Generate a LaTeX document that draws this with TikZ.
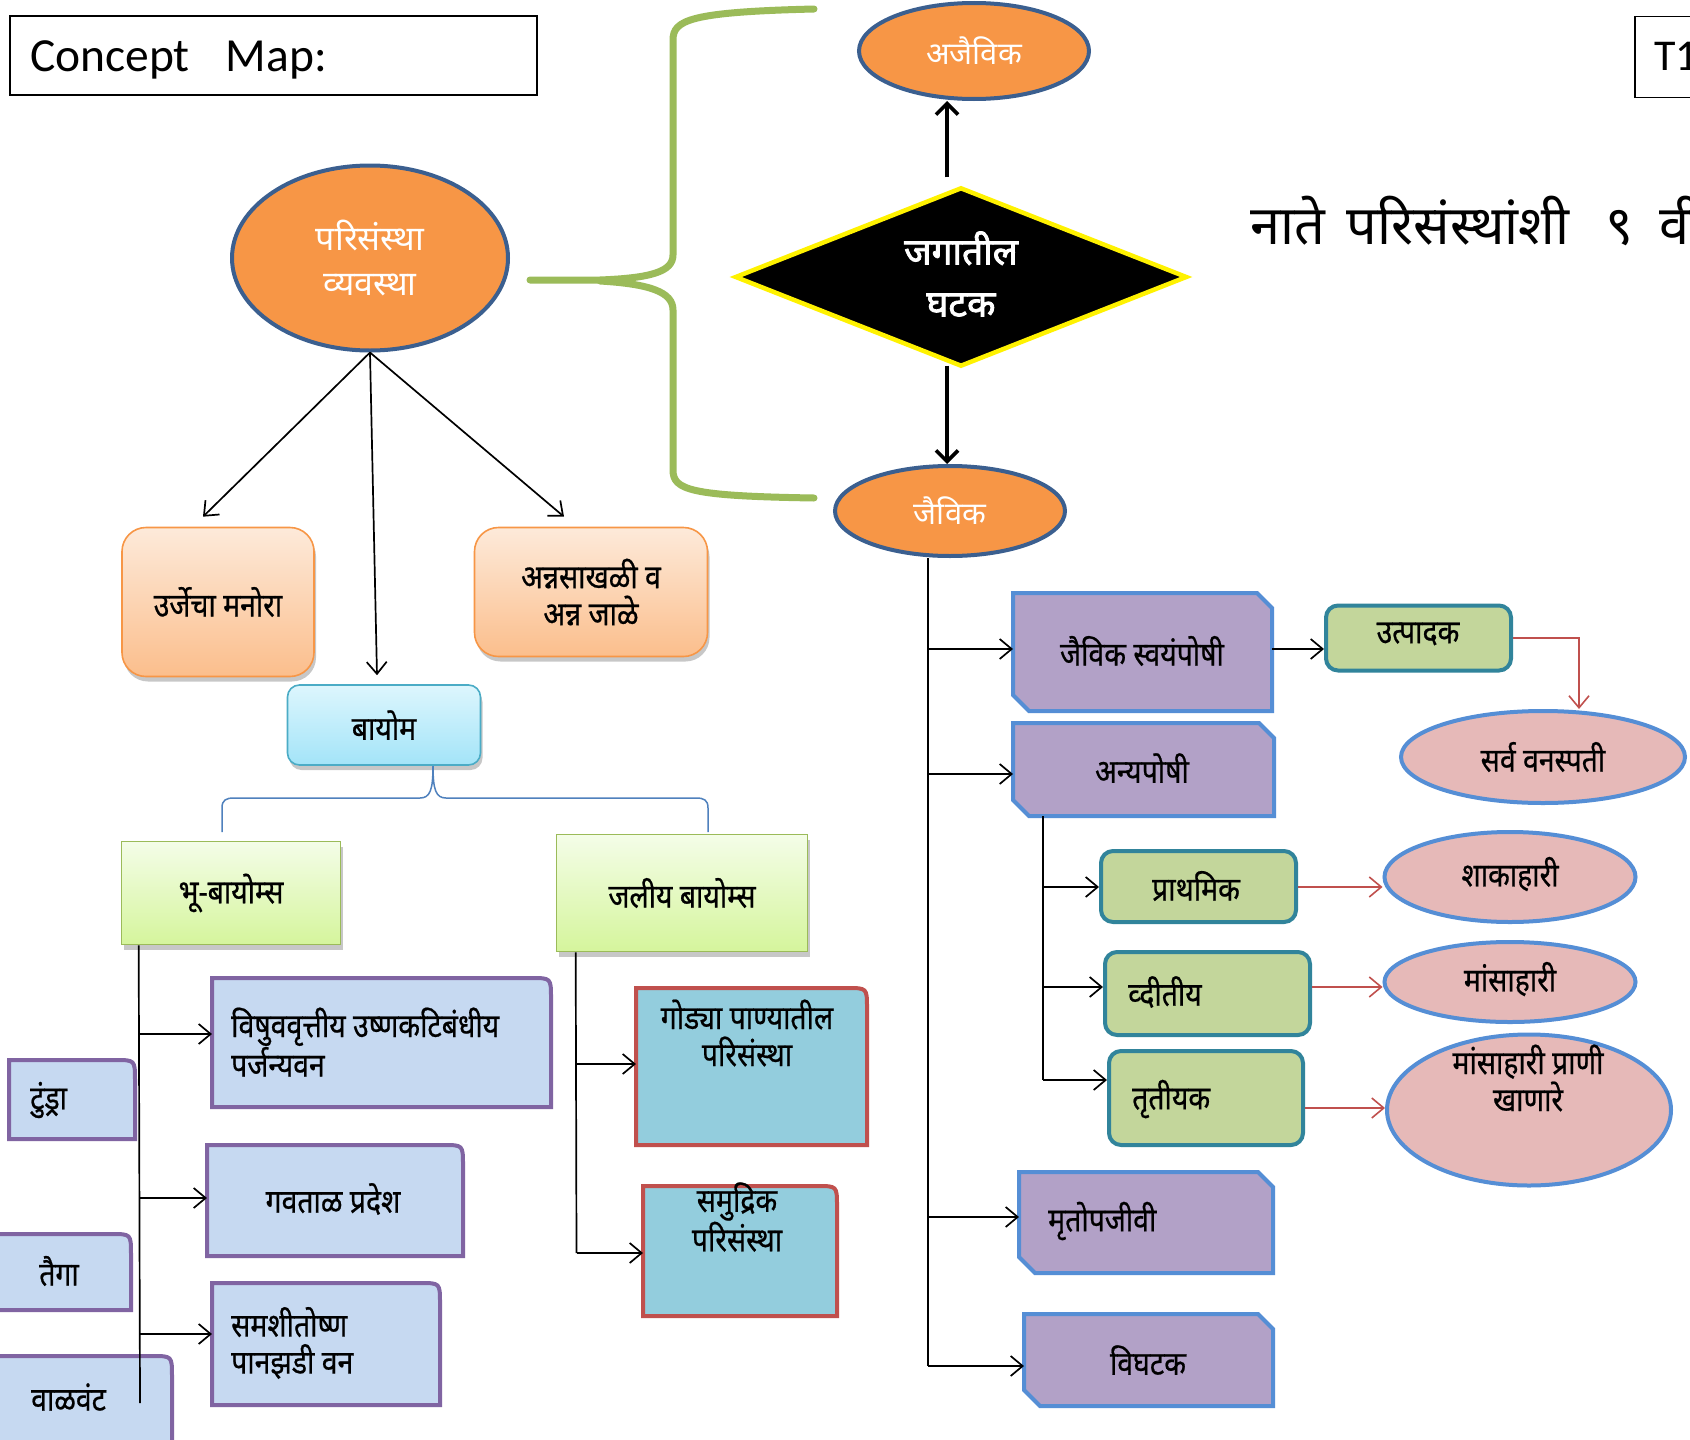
\documentclass[tikz,border=0pt]{standalone}
\usepackage{fontspec}
\setmainfont{Carlito}
\newfontfamily\dev[Script=Devanagari]{Noto Sans}
\newfontfamily\devbox[Script=Devanagari, FakeStretch=0.86, FakeBold=0.6]{Noto Sans}
\newfontfamily\devbold[Script=Devanagari, FakeBold=2.2]{Noto Sans}
\usetikzlibrary{shapes.geometric,arrows.meta,shadows,calc}
\definecolor{orng}{HTML}{F79646}
\definecolor{navy}{HTML}{3B5F8F}
\definecolor{brgreen}{HTML}{9BBB59}
\definecolor{pktop}{HTML}{FDEADA}
\definecolor{pkbot}{HTML}{FBBE8C}
\definecolor{cytop}{HTML}{DDF6FD}
\definecolor{cybot}{HTML}{A3E4F8}
\definecolor{cybord}{HTML}{4BACC6}
\definecolor{grtop}{HTML}{F4FDE8}
\definecolor{grbot}{HTML}{D5F59C}
\definecolor{bioFill}{HTML}{C6D9F1}
\definecolor{bioBord}{HTML}{8064A2}
\definecolor{aqFill}{HTML}{93CDDD}
\definecolor{aqBord}{HTML}{C0504D}
\definecolor{snFill}{HTML}{B2A1C7}
\definecolor{snBord}{HTML}{558ED5}
\definecolor{cnFill}{HTML}{C3D69B}
\definecolor{cnBord}{HTML}{31849B}
\definecolor{elFill}{HTML}{E6B9B8}
\definecolor{redln}{HTML}{C0504D}
\definecolor{blbr}{HTML}{4F81BD}
% box with rounded top-right corner: name, x1, y1, x2, y2, style
\newcommand{\rcshape}[6]{%
  \path[#6] (#2,#5) -- (#2,#3) -- ({#4-20},#3) .. controls (#4,#3) .. (#4,{#3+20}) -- (#4,#5) -- cycle;
  \node[inner sep=0pt,outer sep=0pt,minimum width={((#4)-(#2))*1pt},minimum height={((#5)-(#3))*1pt}] (#1) at ({((#2)+(#4))/2},{((#3)+(#5))/2}) {};
}
% box with snipped top-right and bottom-left corners
\newcommand{\snshape}[6]{%
  \path[#6] (#2,#3) -- ({#4-15},#3) -- (#4,{#3+15}) -- (#4,#5) -- ({#2+16},#5) -- (#2,{#5-16}) -- cycle;
  \node[inner sep=0pt,outer sep=0pt,minimum width={((#4)-(#2))*1pt},minimum height={((#5)-(#3))*1pt}] (#1) at ({((#2)+(#4))/2},{((#3)+(#5))/2}) {};
}
\begin{document}
\begin{tikzpicture}[x=1pt,y=-1pt,
  line/.style={draw=black, line width=1.7pt},
  arr/.style={line, -{Straight Barb[length=12pt,width=20pt]}},
  tharr/.style={draw=black, line width=3.6pt, -{Straight Barb[length=11pt,width=22pt]}},
  rarr/.style={draw=redln, line width=1.6pt, -{Straight Barb[length=12pt,width=20pt]}},
  btxt/.style={font=\devbox\fontsize{33}{37}\selectfont, align=center, inner sep=0pt},
  oval/.style={ellipse, draw=navy, line width=4pt, fill=orng, inner sep=0pt, text=white, align=center, font=\dev\fontsize{31}{45}\selectfont},
  pink/.style={ellipse, draw=snBord, line width=4pt, fill=elFill, inner sep=0pt},
  shad/.style={drop shadow={shadow xshift=2pt,shadow yshift=-5pt,fill=black,opacity=0.22}},
  obox/.style={draw=orng, line width=1.6pt, rounded corners=24pt, top color=pktop, bottom color=pkbot, shad, btxt},
  cbox/.style={draw=cybord, line width=1.6pt, rounded corners=12pt, top color=cytop, bottom color=cybot, shad, btxt},
  gbox/.style={draw=brgreen, line width=1.6pt, top color=grtop, bottom color=grbot, shad, btxt},
  cnbox/.style={draw=cnBord, line width=4pt, fill=cnFill, rounded corners=12pt, inner sep=0pt},
  bioS/.style={draw=bioBord, line width=4pt, fill=bioFill},
  aqS/.style={draw=aqBord, line width=4pt, fill=aqFill},
  snS/.style={draw=snBord, line width=4pt, fill=snFill},
  greenbr/.style={draw=brgreen, line width=7pt, line cap=round, line join=round},
  bluebr/.style={draw=blbr, line width=1.5pt}
]
\useasboundingbox (0,0) rectangle (1690,1440);
\clip (0,0) rectangle (1690,1440);
\fill[white] (0,0) rectangle (1690,1440);

% ---------- header ----------
\node[draw=black, line width=1.5pt, inner sep=0pt, minimum width=527pt, minimum height=79pt] (titlebox) at (273.5,55.5) {};
\node[anchor=base west, inner sep=0pt, font=\fontsize{47.5}{50}\selectfont] (titletxt) at (30,71) {Concept\hspace{36pt}Map:};
\node[draw=black, line width=1.5pt, inner sep=0pt, minimum width=120pt, minimum height=81pt] (tbox) at (1695,57) {};
\node[anchor=base west, inner sep=0pt, font=\fontsize{44}{48}\selectfont] (ttxt) at (1654,70) {T1};
\node[anchor=base west, inner sep=0pt, font=\dev\fontsize{54}{58}\selectfont] (heading) at (1250,244) {नाते\hspace{22pt}परिसंस्थांशी\hspace{36pt}९\hspace{26pt}वी};

% ---------- green brace ----------
\draw[greenbr] (530,280) -- (600,280) .. controls (650,278) and (673,272) .. (673,255) -- (673,40) .. controls (673,20) and (690,12) .. (814,9);
\draw[greenbr] (600,281) .. controls (650,284) and (673,292) .. (673,310) -- (673,470) .. controls (673,490) and (690,496) .. (814,498);

% ---------- top nodes ----------
\node[oval, minimum width=276pt, minimum height=185pt, font=\dev\fontsize{34}{45}\selectfont] (pari) at (370,258) {परिसंस्था\\व्यवस्था};
\node[oval, minimum width=230pt, minimum height=96pt] (ajaivik) at (974,51) {अजैविक};
\node[oval, minimum width=230pt, minimum height=90pt] (jaivik) at (950,511) {जैविक};
\node[inner sep=0pt, minimum width=450pt, minimum height=177pt] (ghatak) at (961,277) {};
\path[fill=black, draw=yellow, line width=4.5pt, line join=miter] (ghatak.west) -- (ghatak.north) -- (ghatak.east) -- (ghatak.south) -- cycle;
\node[inner sep=0pt, text=white, align=center, font=\devbold\fontsize{37}{52}\selectfont] (ghatxt) at (961,274) {जगातील\\घटक};

% ---------- left: boxes ----------
\node[obox, minimum width=192pt, minimum height=149pt] (urja) at (218,602) {उर्जेचा मनोरा};
\node[obox, minimum width=233pt, minimum height=129pt] (anna) at (591,592) {अन्नसाखळी व\\अन्न जाळे};
\node[cbox, minimum width=193pt, minimum height=80pt] (biome) at (384,725) {बायोम};
\node[gbox, minimum width=219pt, minimum height=103pt] (bhu) at (231,893) {भू-बायोम्स};
\node[gbox, minimum width=251pt, minimum height=117pt] (jal) at (682,893) {जलीय बायोम्स};

% blue brace under biome
\draw[bluebr] (222,832) -- (222,808) .. controls (222,800) and (226,798) .. (234,798) -- (420,798) .. controls (430,798) and (433,790) .. (433,766);
\draw[bluebr] (433,766) .. controls (433,790) and (436,798) .. (446,798) -- (696,798) .. controls (704,798) and (708,800) .. (708,808) -- (708,832);

\rcshape{vishuv}{212}{978}{551}{1107}{bioS}
\rcshape{tundra}{9}{1060}{135}{1139}{bioS}
\rcshape{gavatal}{207}{1145}{463}{1256}{bioS}
\rcshape{taiga}{-6}{1234}{131}{1310}{bioS}
\rcshape{samshi}{212}{1283}{440}{1405}{bioS}
\rcshape{valvant}{-6}{1356}{172}{1460}{bioS}
\rcshape{gode}{636}{988}{867}{1145}{aqS}
\rcshape{samudra}{643}{1186}{837}{1316}{aqS}

% ---------- right: boxes ----------
\snshape{svayam}{1013}{593}{1272}{711}{snS}
\snshape{anya}{1013}{723}{1274}{816}{snS}
\snshape{mrut}{1019}{1172}{1273}{1273}{snS}
\snshape{vigh}{1024}{1314}{1273}{1406}{snS}
\node[cnbox, minimum width=185pt, minimum height=65pt] (utpadak) at (1418.5,638) {};
\node[cnbox, minimum width=195pt, minimum height=71pt] (prath) at (1198.5,886.5) {};
\node[cnbox, minimum width=205pt, minimum height=83pt] (dvit) at (1207.5,993.5) {};
\node[cnbox, minimum width=194pt, minimum height=94pt] (trit) at (1206,1098) {};
\node[pink, minimum width=284pt, minimum height=92pt] (sarva) at (1543,757) {};
\node[pink, minimum width=251pt, minimum height=90pt] (shak) at (1510,877) {};
\node[pink, minimum width=251pt, minimum height=80pt] (mans) at (1510,982) {};
\node[pink, minimum width=284pt, minimum height=151pt] (prani) at (1529,1110) {};

% ---------- connectors ----------
\coordinate (gU) at ([xshift=-14pt,yshift=11pt]ghatak.north);
\draw[tharr] (gU) -- (gU |- ajaivik.south);
\coordinate (gD) at ([xshift=-14pt]ghatak.south);
\draw[tharr] (gD) -- (gD |- jaivik.north);

\draw[arr] (pari.south) -- ([xshift=-15pt,yshift=10pt]urja.north);
\draw[arr] (pari.south) -- ([xshift=-7pt,yshift=9pt]biome.north);
\draw[arr] (pari.south) -- ([xshift=-27pt,yshift=10pt]anna.north);

\coordinate (bT) at ([xshift=18pt]bhu.south west);
\coordinate (bB) at (140,1403);
\draw[line] (bT) -- (bB);
\coordinate (b1) at (140,1034);
\coordinate (b2) at (140,1198);
\coordinate (b3) at (140,1334);
\draw[arr] (b1) -- (b1 -| vishuv.west);
\draw[arr] (b2) -- (b2 -| gavatal.west);
\draw[arr] (b3) -- (b3 -| samshi.west);

\coordinate (wT) at ([xshift=20pt]jal.south west);
\coordinate (wB) at (576.5,1253);
\draw[line] (wT) -- (wB);
\coordinate (w1) at (576.5,1064);
\draw[arr] (w1) -- (w1 -| gode.west);
\draw[arr] (wB) -- (wB -| samudra.west);

\coordinate (jT) at ([xshift=-22pt]jaivik.south);
\coordinate (jB) at (928,1366);
\draw[line] (jT) -- (jB);
\coordinate (j1) at (928,649);
\coordinate (j2) at (928,774);
\coordinate (j3) at (928,1217);
\draw[arr] (j1) -- (j1 -| svayam.west);
\draw[arr] (j2) -- (j2 -| anya.west);
\draw[arr] (j3) -- (j3 -| mrut.west);
\draw[arr] (jB) -- (jB -| vigh.west);
\draw[arr] (j1 -| svayam.east) -- (j1 -| utpadak.west);
\draw[rarr] (utpadak.east) -| ([xshift=36pt]sarva.north);

\coordinate (aT) at (1043,816);
\coordinate (aB) at (1043,1080);
\draw[line] (aT) -- (aB);
\coordinate (a1) at (1043,887);
\coordinate (a2) at (1043,987);
\coordinate (a3) at (1043,1108);
\draw[arr] (a1) -- (a1 -| prath.west);
\draw[arr] (a2) -- (a2 -| dvit.west);
\draw[arr] (aB) -- (aB -| trit.west);
\draw[rarr] (a1 -| prath.east) -- (a1 -| shak.west);
\draw[rarr] (a2 -| dvit.east) -- (a2 -| mans.west);
\draw[rarr] (a3 -| trit.east) -- (a3 -| prani.west);

% ---------- texts ----------
\node[btxt, anchor=west, align=left] (t-vishuv) at (231,1042) {विषुववृत्तीय उष्णकटिबंधीय\\पर्जन्यवन};
\node[btxt, anchor=west] (t-tundra) at (30,1100) {टुंड्रा};
\node[btxt] (t-gavatal) at (333,1199) {गवताळ प्रदेश};
\node[btxt] (t-taiga) at (59,1271) {तैगा};
\node[btxt, anchor=west, align=left] (t-samshi) at (231,1343) {समशीतोष्ण\\पानझडी वन};
\node[btxt, anchor=west] (t-valvant) at (31,1397) {वाळवंट};
\node[btxt] (t-gode) at (747,1033) {गोड्या पाण्यातील\\परिसंस्था};
\node[btxt] (t-samudra) at (737,1217) {समुद्रिक\\परिसंस्था};

\node[btxt] (t-svayam) at (1142,651) {जैविक स्वयंपोषी};
\node[btxt] (t-anya) at (1142,768) {अन्यपोषी};
\node[btxt] (t-utpadak) at (1418,634) {उत्पादक};
\node[btxt] (t-sarva) at (1543,757) {सर्व वनस्पती};
\node[btxt] (t-prath) at (1196,886) {प्राथमिक};
\node[btxt, anchor=west] (t-dvit) at (1128,992) {व्दीतीय};
\node[btxt, anchor=west] (t-trit) at (1132,1099) {तृतीयक};
\node[btxt] (t-shak) at (1510,874) {शाकाहारी};
\node[btxt] (t-mans) at (1510,979) {मांसाहारी};
\node[btxt] (t-prani) at (1528,1078) {मांसाहारी प्राणी\\खाणारे};
\node[btxt, anchor=west] (t-mrut) at (1048,1221) {मृतोपजीवी};
\node[btxt] (t-vigh) at (1148,1360) {विघटक};
\end{tikzpicture}
\end{document}
